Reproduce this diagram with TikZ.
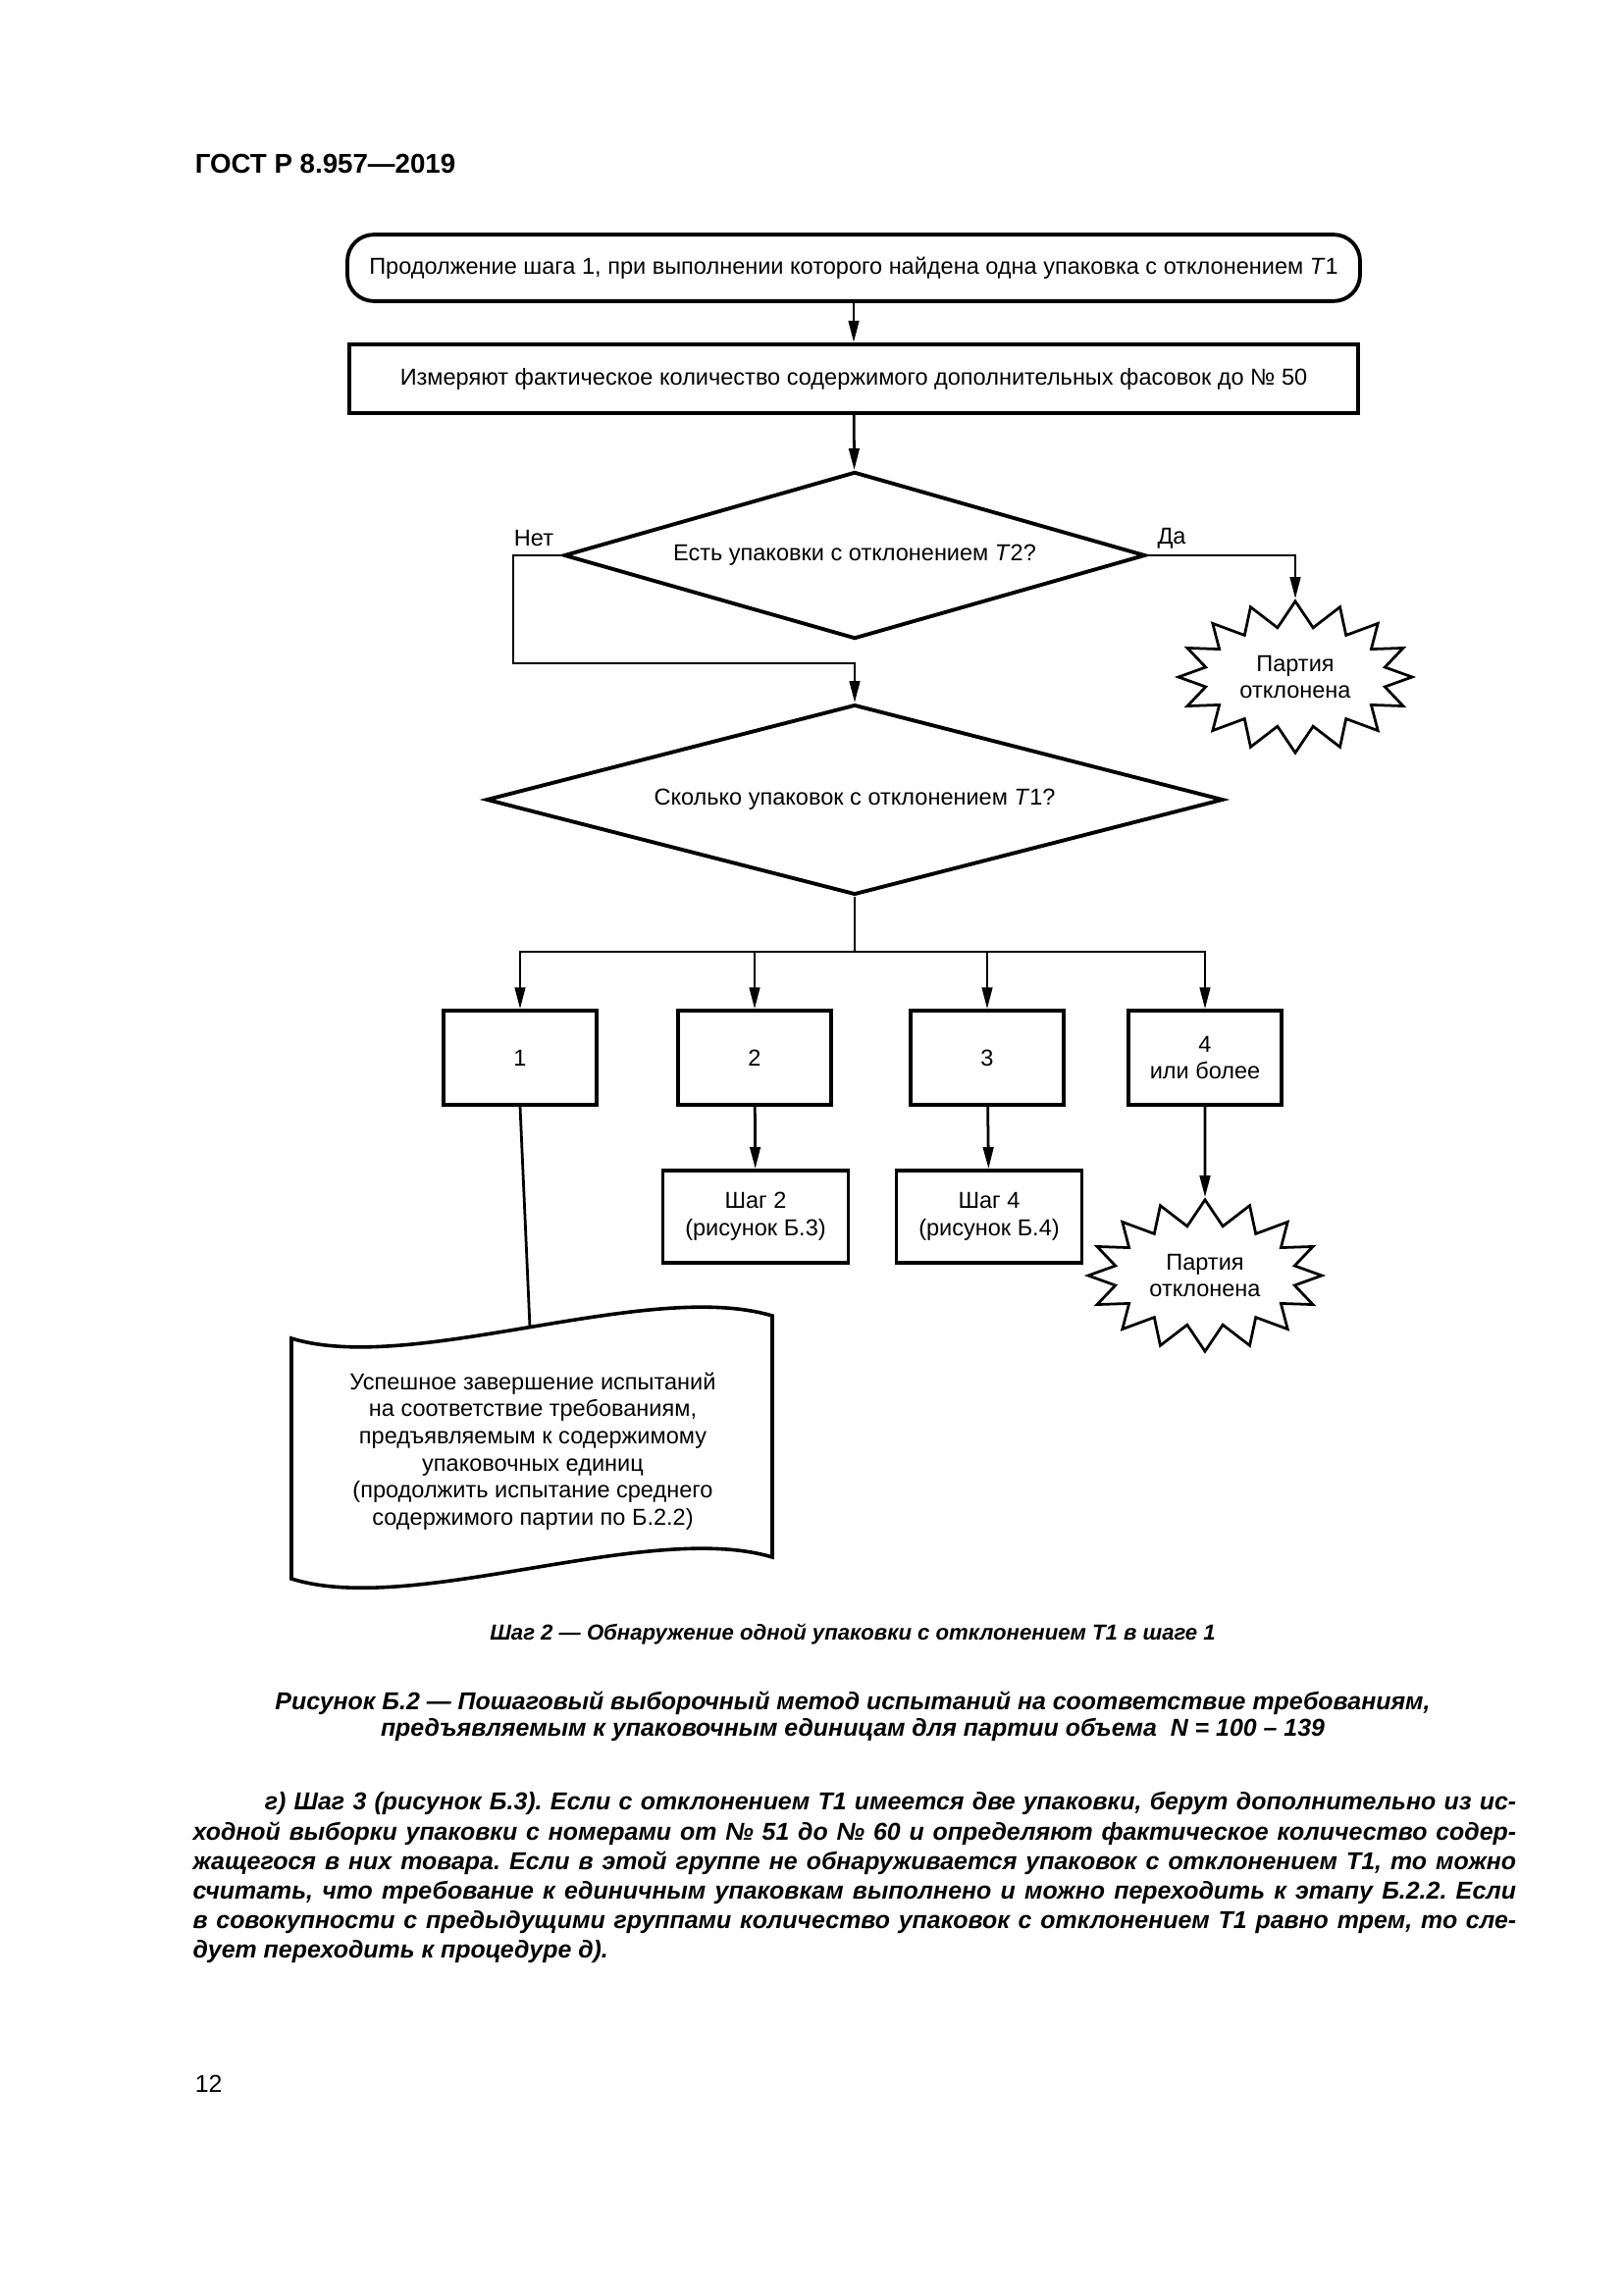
\documentclass[tikz,border=0pt]{standalone}
\usepackage{fontspec}
\setmainfont{Liberation Sans}
\usetikzlibrary{shapes.geometric,shapes.symbols,arrows.meta}

\begin{document}
\frenchspacing
\begin{tikzpicture}[x=0.0127cm,y=-0.0127cm,
        every node/.style={font=\fontsize{8.5}{10}\selectfont},
        startbox/.style={draw,line width=1.4pt,rounded corners=0.34cm,minimum width=13.1cm,minimum height=0.86cm},
        actbox/.style={draw,line width=1.4pt,minimum width=13.06cm,minimum height=0.89cm},
        askbox/.style={draw,diamond,line width=1.4pt,aspect=3.6,inner sep=1pt},
        numbox/.style={draw,line width=1.4pt,minimum width=1.97cm,minimum height=1.21cm,align=center},
        stepbox/.style={draw,line width=1.4pt,minimum width=2.4cm,minimum height=1.19cm,align=center},
        rejbox/.style={draw,starburst,line width=1pt,starburst points=16,starburst point height=0.33cm,random starburst=0,minimum width=2.92cm,minimum height=1.96cm,align=center},
        doctext/.style={align=center},
        docline/.style={line width=1.3pt},
        conn/.style={line width=1pt},
        arr/.style={line width=1pt,-{Triangle[length=8pt,width=3.8pt]}}]
    \useasboundingbox (0,0) rectangle (1654,2339);

    % Page text
    \node[anchor=west,font=\bfseries\fontsize{10}{12}\selectfont] (gost) at (189,167) {ГОСТ Р 8.957—2019};
    \node[anchor=west,font=\fontsize{9}{11}\selectfont] (page) at (189,2124) {12};

    % Blocks
    \node[startbox] (start) at (870,273) {Продолжение шага 1, при выполнении которого найдена одна упаковка с отклонением \textit{T}1};
    \node[actbox] (measure) at (870,386) {Измеряют фактическое количество содержимого дополнительных фасовок до № 50};
    \node[askbox,minimum width=7.52cm,minimum height=2.16cm] (askT2) at (871,566) {Есть упаковки с отклонением \textit{T}2?};
    \node[rejbox] (reject1) at (1320,690) {Партия\\отклонена};
    \node[askbox,minimum width=9.53cm,minimum height=2.46cm] (askT1) at (871,815) {Сколько упаковок с отклонением \textit{T}1?};
    \foreach \x/\n/\t in {530/1/1, 769/2/2, 1006/3/3, 1228/4/{4\\или более}} {
        \node[numbox] (count\n) at (\x,1078) {\t};
    }
    \node[stepbox] (step2) at (770,1240) {Шаг 2\\(рисунок Б.3)};
    \node[stepbox] (step4) at (1008,1240) {Шаг 4\\(рисунок Б.4)};
    \node[rejbox] (reject2) at (1228,1300) {Партия\\отклонена};
    \node[doctext] (done) at (543,1479) {Успешное завершение испытаний\\на соответствие требованиям,\\предъявляемым к содержимому\\упаковочных единиц\\(продолжить испытание среднего\\содержимого партии по Б.2.2)};
    % Document outline
    \draw[docline] (297,1364) .. controls (420,1402) and (660,1303) .. (787,1341)
        -- (787,1587) .. controls (660,1549) and (420,1648) .. (297,1609) -- cycle;
    \coordinate (donetop) at (540,1353);

    % Yes / No
    \node (no) at (544,549) {Нет};
    \node (yes) at (1194,549) {Да};

    % Connectors
    \coordinate (noturn) at (523,676);
    \coordinate (fork) at (871,970);
    \draw[arr] (start) -- (measure);
    \draw[arr] (measure) -- (askT2);
    \draw[arr] (askT2.west) -| (noturn) -| (askT1.north);
    \draw[arr] (askT2.east) -| (reject1.north);
    \draw[conn] (askT1.south) -- (fork);
    \foreach \n in {1,2,3,4} {
        \draw[arr] (fork) -| (count\n.north);
    }
    \draw[arr] (count2) -- (step2);
    \draw[arr] (count3) -- (step4);
    \draw[arr] (count4) -- (reject2.north);
    \draw[conn] (count1.south) -- (donetop);

    % Captions
    \node[font=\bfseries\itshape\fontsize{8}{10}\selectfont] (steptitle) at (869,1665) {Шаг 2 — Обнаружение одной упаковки с отклонением Т1 в шаге 1};
    \node[font=\bfseries\itshape\fontsize{9}{9.7}\selectfont,align=center] (figtitle) at (869,1749) {Рисунок Б.2 — Пошаговый выборочный метод испытаний на соответствие требованиям,\\предъявляемым к упаковочным единицам для партии объема~~\textit{N} = 100 – 139};
    \node[anchor=north west,inner sep=0pt,align=left,font=\bfseries\itshape\fontsize{9}{10.9}\selectfont] (para) at (196,1826) {%
        \hspace*{0.93cm}\makebox[16.19cm][s]{г) Шаг 3 (рисунок Б.3). Если с отклонением Т1 имеется две упаковки, берут дополнительно из ис-}\\
        \makebox[17.12cm][s]{ходной выборки упаковки с номерами от № 51 до № 60 и определяют фактическое количество содер-}\\
        \makebox[17.12cm][s]{жащегося в них товара. Если в этой группе не обнаруживается упаковок с отклонением Т1, то можно}\\
        \makebox[17.12cm][s]{считать, что требование к единичным упаковкам выполнено и можно переходить к этапу Б.2.2. Если}\\
        \makebox[17.12cm][s]{в совокупности с предыдущими группами количество упаковок с отклонением Т1 равно трем, то сле-}\\
        дует переходить к процедуре д).};
\end{tikzpicture}
\end{document}
